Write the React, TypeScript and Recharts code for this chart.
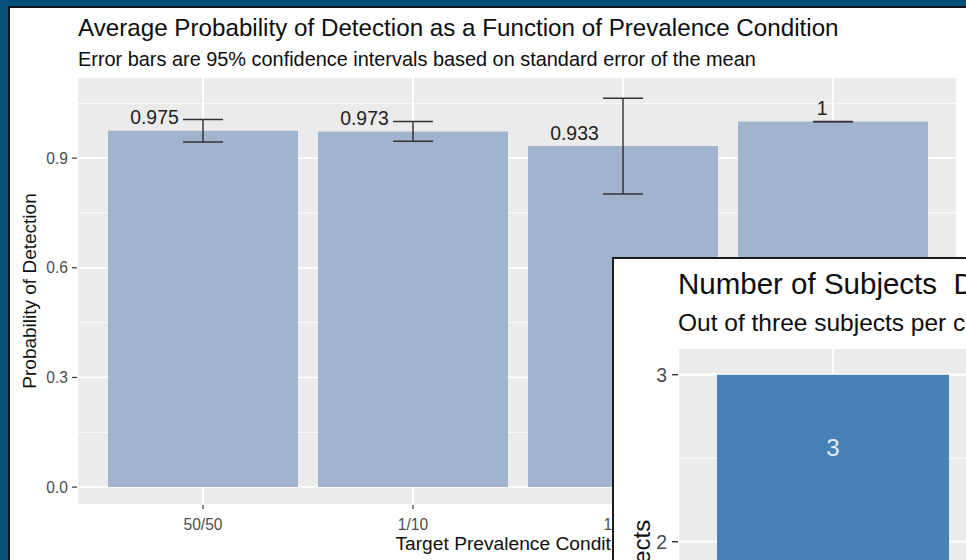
import React from "react";
import { BarChart, Bar, XAxis, YAxis, CartesianGrid, ErrorBar, LabelList } from "recharts";

// ---- main chart data ----
const conditions = ["50/50", "1/10", "1/100", "1/1000"];
const meanDetection = [0.975, 0.973, 0.933, 1];
const ciHalfWidth = [0.031, 0.027, 0.131, 0.0005];
const barLabels = ["0.975", "0.973", "0.933", "1"];
const yTicks = [0, 0.3, 0.6, 0.9];
const yMinorTicks = [0.15, 0.45, 0.75, 1.05];

// ---- inset chart data (only the visible part) ----
const insetConditions = ["50/50"];
const insetSubjects = [3];
const insetTicks = [0, 1, 2, 3];
const insetMinorTicks = [0.5, 1.5, 2.5];

const FONT = "'Liberation Sans', Arial, Helvetica, sans-serif";

const mainData = conditions.map((c, i) => ({
  condition: c,
  mean: meanDetection[i],
  err: ciHalfWidth[i],
  label: barLabels[i],
}));

const insetData = insetConditions.map((c, i) => ({
  condition: c,
  n: insetSubjects[i],
}));

const charW = (s: string, size: number) => {
  let w = 0;
  for (const ch of s) w += ch === "." ? 0.278 : 0.556;
  return w * size;
};

const MainBarLabel = (props: any) => {
  const { x, y, width, value } = props;
  const size = 19.4;
  const cx = Number(x) + Number(width) / 2;
  const s = String(value);
  const w = charW(s, size);
  return (
    <text
      x={cx - w / 2}
      y={Number(y) - 6.5}
      textAnchor="end"
      fontSize={size}
      fontFamily={FONT}
      fill="#1f1f1f"
    >
      {s}
    </text>
  );
};

const InsetBarLabel = (props: any) => {
  const { x, y, width, value } = props;
  const cx = Number(x) + Number(width) / 2;
  return (
    <text x={cx} y={Number(y) + 81.5} textAnchor="middle" fontSize={24} fontFamily={FONT} fill="#E2EAF3">
      {String(value)}
    </text>
  );
};

export default function App() {
  return (
    <div
      style={{
        position: "fixed",
        left: 0,
        top: 0,
        width: 966,
        height: 560,
        overflow: "hidden",
        background: "#04507A",
        fontFamily: FONT,
      }}
    >
      <div
        style={{
          position: "absolute",
          left: 8,
          top: 6,
          width: 980,
          height: 600,
          background: "#FFFFFF",
          borderLeft: "2px solid #141414",
          borderTop: "2px solid #141414",
        }}
      />

      {/* main titles */}
      <svg style={{ position: "absolute", left: 0, top: 0 }} width={966} height={76}>
        <text x={78} y={35.5} fontSize={24.2} fontFamily={FONT} fill="#0d0d0d">
          Average Probability of Detection as a Function of Prevalence Condition
        </text>
        <text x={78} y={65.5} fontSize={19.9} fontFamily={FONT} fill="#0d0d0d">
          Error bars are 95% confidence intervals based on standard error of the mean
        </text>
      </svg>

      {/* main chart */}
      <div style={{ position: "absolute", left: 0, top: 0 }}>
        <BarChart
          width={966}
          height={560}
          data={mainData}
          margin={{ top: 77, right: 9, bottom: 15, left: 0 }}
          barCategoryGap={0}
        >
          <CartesianGrid fill="#EBEBEB" stroke="#FFFFFF" strokeWidth={1.8} />
          <CartesianGrid
            fill="none"
            stroke="#FFFFFF"
            strokeWidth={0.9}
            vertical={false}
            horizontalValues={yMinorTicks}
          />
          <XAxis
            dataKey="condition"
            axisLine={false}
            tickLine={{ stroke: "#333333", strokeWidth: 1.2 }}
            tickSize={4}
            tickMargin={10}
            height={40}
            padding={{ left: 21, right: 19 }}
            interval={0}
            tick={{ fontSize: 15.6, fill: "#4D4D4D", fontFamily: FONT }}
            label={(p: any) => {
              const vb = p.viewBox || {};
              return (
                <text
                  x={vb.x + vb.width / 2 - 1}
                  y={vb.y + 45}
                  textAnchor="middle"
                  fontSize={19.2}
                  fontFamily={FONT}
                  fill="#111"
                >
                  Target Prevalence Condition
                </text>
              );
            }}
          />
          <YAxis
            type="number"
            domain={[-0.049, 1.122]}
            allowDataOverflow
            ticks={yTicks}
            tickFormatter={(v: number) => v.toFixed(1)}
            axisLine={false}
            tickLine={{ stroke: "#333333", strokeWidth: 1.2 }}
            tickSize={5}
            tickMargin={4}
            width={77}
            tick={{ fontSize: 15.6, fill: "#4D4D4D", fontFamily: FONT }}
            label={(p: any) => {
              const vb = p.viewBox || {};
              const cy = vb.y + vb.height / 2;
              return (
                <text
                  transform={`translate(36, ${cy}) rotate(-90)`}
                  textAnchor="middle"
                  fontSize={19}
                  fontFamily={FONT}
                  fill="#111"
                >
                  Probability of Detection
                </text>
              );
            }}
          />
          <Bar dataKey="mean" fill="#A0B5CD" barSize={190} isAnimationActive={false}>
            <ErrorBar dataKey="err" width={20} stroke="#333333" strokeWidth={1.5} direction="y" />
            <LabelList dataKey="label" content={MainBarLabel} />
          </Bar>
        </BarChart>
      </div>

      {/* inset chart */}
      <div
        style={{
          position: "absolute",
          left: 612,
          top: 257,
          width: 420,
          height: 700,
          background: "#FFFFFF",
          border: "2px solid #1b1b1b",
        }}
      >
        <div style={{ position: "absolute", left: 0, top: 0 }}>
          <BarChart
            width={374}
            height={700}
            data={insetData}
            margin={{ top: 89, right: 0, bottom: 56.6, left: 0 }}
          >
            <CartesianGrid fill="#EBEBEB" stroke="#FFFFFF" strokeWidth={2.2} />
            <CartesianGrid
              fill="none"
              stroke="#FFFFFF"
              strokeWidth={1.1}
              vertical={false}
              horizontalValues={insetMinorTicks}
            />
            <XAxis dataKey="condition" hide />
            <YAxis
              type="number"
              domain={[-0.16, 3.16]}
              allowDataOverflow
              ticks={insetTicks}
              axisLine={false}
              tickLine={{ stroke: "#333333", strokeWidth: 1.4 }}
              tickSize={6}
              tickMargin={5}
              width={64}
              tick={{ fontSize: 19.4, fill: "#4D4D4D", fontFamily: FONT }}
              label={(p: any) => {
                const vb = p.viewBox || {};
                const cy = vb.y + vb.height / 2;
                return (
                  <text
                    transform={`translate(36, ${cy}) rotate(-90)`}
                    textAnchor="middle"
                    fontSize={24}
                    fontFamily={FONT}
                    fill="#111"
                  >
                    Number of Subjects
                  </text>
                );
              }}
            />
            <Bar dataKey="n" fill="#4682B4" barSize={232} isAnimationActive={false}>
              <LabelList dataKey="n" content={InsetBarLabel} />
            </Bar>
          </BarChart>
        </div>
        <svg style={{ position: "absolute", left: 0, top: 0 }} width={420} height={90}>
          <text x={64} y={35} fontSize={29.5} fontFamily={FONT} fill="#0d0d0d" style={{ whiteSpace: "pre" }}>
            {"Number of Subjects  D"}
          </text>
          <text x={64} y={72} fontSize={24.5} fontFamily={FONT} fill="#0d0d0d">
            Out of three subjects per c
          </text>
        </svg>
      </div>
    </div>
  );
}
